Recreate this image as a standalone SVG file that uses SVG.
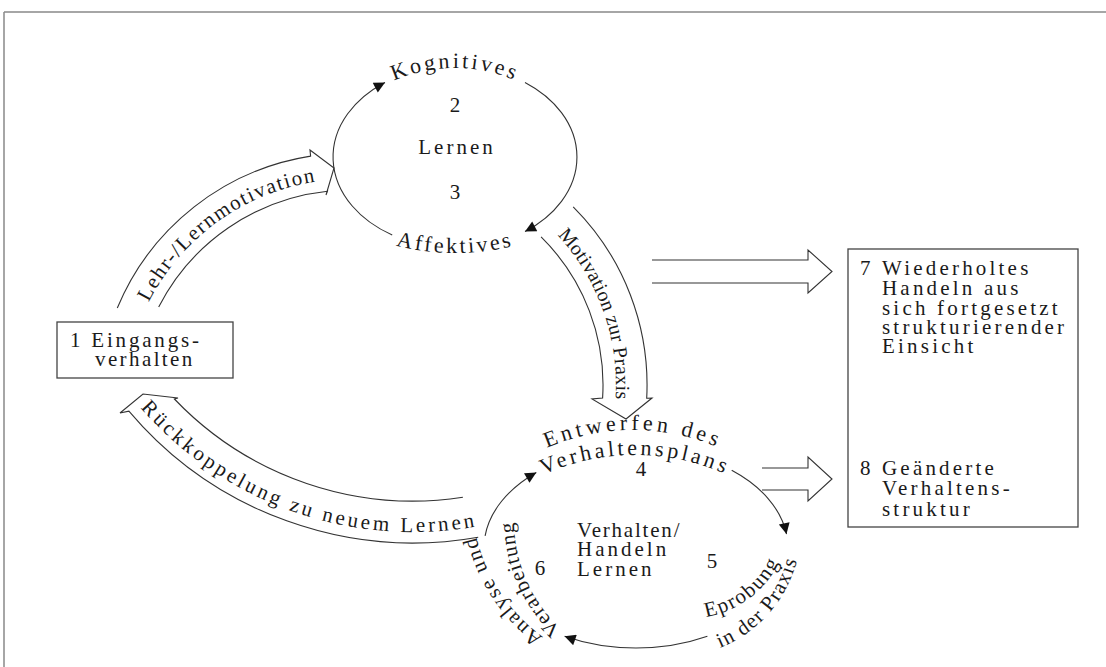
<svg xmlns="http://www.w3.org/2000/svg" width="1106" height="667" viewBox="0 0 1106 667">
<defs>
<style>
.t{font-family:"Liberation Serif","Times New Roman",serif;fill:#1a1a1a;font-size:21px}
.ln{fill:none;stroke:#333;stroke-width:1.1}
.band{fill:#fff;stroke:#333;stroke-width:1.1;stroke-linejoin:miter}
.box{fill:#fff;stroke:#444;stroke-width:1.3}
.frame{stroke:#888;stroke-width:1.5;fill:none}
</style>
<marker id="ah" viewBox="0 0 10 10" refX="10" refY="5" markerWidth="15" markerHeight="11" markerUnits="userSpaceOnUse" orient="auto">
<path d="M0,0 L10,5 L0,10 z" fill="#111"/>
</marker>
<path id="pLehr" d="M146.9,305.9 A226 226 0 0 1 322.5,180.7"/>
<path id="pMot" d="M554,231.5 A221 221 0 0 1 614.8,408.1"/>
<path id="pRueck" d="M138.5,405.4 A361 361 0 0 0 481.9,525.4"/>
<path id="pKog" d="M357.9,103.3 A151 151 0 0 1 552.1,103.3"/>
<path id="pAff" d="M300.7,196.9 A240 240 0 0 0 609.3,196.9"/>
<path id="pEnt" d="M466.8,507.5 A217 217 0 0 1 799.2,507.5"/>
<path id="pVhp" d="M463.4,535 A224 224 0 0 1 806.6,535"/>
<path id="pEpr" d="M706,617 A100 100 0 0 0 783,553"/>
<path id="pPrax" d="M720,648 A130 130 0 0 0 800,546"/>
<path id="pAna" d="M543,637 A172 172 0 0 1 476,535"/>
<path id="pVer" d="M561,629 A147 147 0 0 1 514,520"/>
</defs>

<g id="frame">
<line class="frame" x1="4" y1="12" x2="1106" y2="12"/>
<line class="frame" x1="4" y1="12" x2="4" y2="667"/>
</g>

<g id="connectors">
<path class="band" d="M117.3,308 A252 252 0 0 1 310.6,156.1 L310,150 L334,168 L326,195 L327.5,191.2 A215 215 0 0 0 158.7,307"/>
<path class="band" d="M573.2,206.8 A252 252 0 0 1 646.7,398.2 L652,398 L626,419 L592,399 L602.6,398.1 A208 208 0 0 0 541.1,236.9"/>
<path class="band" d="M462.9,497.2 A330 330 0 0 1 174.4,399 L178,398 L143,394 L120,413 L128.9,411.1 A372 372 0 0 0 478.2,537.2"/>
<path class="band" d="M652,260 L808,260 L808,250 L832,271.5 L808,293 L808,283 L652,283"/>
<path class="band" d="M762,468 L808,468 L808,457 L832,479 L808,501 L808,490 L762,490"/>
<path class="ln" d="M392.2,235 A122 91 0 0 1 385,82.5" marker-end="url(#ah)"/>
<path class="ln" d="M525,82.5 A122 91 0 0 1 525,231.5" marker-end="url(#ah)"/>
<path class="ln" d="M485.1,535.8 A152 100 0 0 1 536.3,472.5" marker-end="url(#ah)"/>
<path class="ln" d="M731.7,470.3 A152 100 0 0 1 786.5,534.1" marker-end="url(#ah)"/>
<path class="ln" d="M707.4,636.3 A152 100 0 0 1 564.6,636.3" marker-end="url(#ah)"/>
<text class="t" style="letter-spacing:1.6px"><textPath href="#pLehr" startOffset="4">Lehr-/Lernmotivation</textPath></text>
<text class="t" style="font-size:20px;letter-spacing:0.2px"><textPath href="#pMot" startOffset="5">Motivation zur Praxis</textPath></text>
<text class="t" style="letter-spacing:3.1px"><textPath href="#pRueck" startOffset="3">Rückkoppelung zu neuem Lernen</textPath></text>
</g>

<g id="node-lernen">
<text class="t" style="font-size:22px;letter-spacing:2.9px" text-anchor="middle"><textPath href="#pKog" startOffset="50%">Kognitives</textPath></text>
<text class="t" x="455" y="112" text-anchor="middle">2</text>
<text class="t" x="457" y="154" text-anchor="middle" style="letter-spacing:3px">Lernen</text>
<text class="t" x="455" y="199" text-anchor="middle">3</text>
<text class="t" style="font-size:22px;letter-spacing:2.7px" text-anchor="middle"><textPath href="#pAff" startOffset="50%">Affektives</textPath></text>
</g>

<g id="node-1">
<rect class="box" x="57" y="322" width="176" height="56"/>
<text class="t" x="70" y="347" style="letter-spacing:2.8px">1 Eingangs-</text>
<text class="t" x="95" y="366" style="letter-spacing:2.4px">verhalten</text>
</g>

<g id="node-7-8">
<rect class="box" x="848" y="249" width="230" height="278"/>
<g id="node-7" class="t" style="letter-spacing:3.2px">
<text x="860" y="275">7</text>
<text x="882" y="275">Wiederholtes</text>
<text x="882" y="295">Handeln aus</text>
<text x="882" y="315">sich fortgesetzt</text>
<text x="882" y="334">strukturierender</text>
<text x="882" y="353">Einsicht</text>
</g>
<g id="node-8" class="t" style="letter-spacing:3.2px">
<text x="860" y="475">8</text>
<text x="882" y="475">Geänderte</text>
<text x="882" y="495">Verhaltens-</text>
<text x="882" y="516">struktur</text>
</g>
</g>

<g id="node-verhalten">
<text class="t" style="font-size:22px;letter-spacing:3.9px" text-anchor="middle"><textPath href="#pEnt" startOffset="50%">Entwerfen des</textPath></text>
<text class="t" style="font-size:22px;letter-spacing:3.3px" text-anchor="middle"><textPath href="#pVhp" startOffset="50%">Verhaltensplans</textPath></text>
<text class="t" x="641" y="476" text-anchor="middle">4</text>
<text class="t" x="577" y="537" style="letter-spacing:1.8px">Verhalten/</text>
<text class="t" x="577" y="556" style="letter-spacing:3px">Handeln</text>
<text class="t" x="577" y="576" style="letter-spacing:3px">Lernen</text>
<text class="t" x="712" y="568" text-anchor="middle">5</text>
<text class="t" x="540" y="575" text-anchor="middle">6</text>
<text class="t" style="letter-spacing:1.6px"><textPath href="#pEpr">Eprobung</textPath></text>
<text class="t" style="letter-spacing:1.2px"><textPath href="#pPrax">in der Praxis</textPath></text>
<text class="t" style="letter-spacing:1.7px"><textPath href="#pAna">Analyse und</textPath></text>
<text class="t" style="letter-spacing:1px"><textPath href="#pVer">Verarbeitung</textPath></text>
</g>
</svg>
